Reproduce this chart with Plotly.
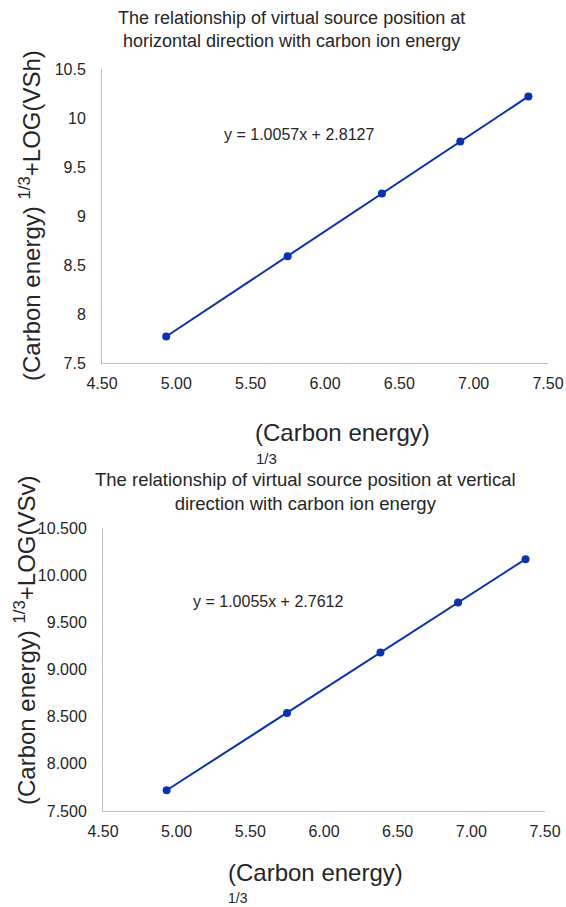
import plotly.graph_objects as go

# Data
energy_cuberoot = [4.932, 5.749, 6.383, 6.910, 7.368]
vsh_values = [7.77, 8.59, 9.23, 9.76, 10.22]
vsv_values = [7.72, 8.54, 9.18, 9.71, 10.17]
eq_h = "y = 1.0057x + 2.8127"
eq_v = "y = 1.0055x + 2.7612"
title_h = "The relationship of virtual source position at<br>horizontal direction with carbon ion energy"
title_v = "The relationship of virtual source position at vertical<br>direction with carbon ion energy"
ytitle_h = "(Carbon energy) <sup>1/3</sup>+LOG(VSh)"
ytitle_v = "(Carbon energy) <sup>1/3</sup>+LOG(VSv)"
xtitle = "(Carbon energy)"
xtitle_exp = "1/3"
x_ticks = [4.5, 5.0, 5.5, 6.0, 6.5, 7.0, 7.5]

W, H = 566, 907
FONT = "Liberation Sans, Arial, sans-serif"
BLUE = "#0a32b4"
AXC = "#bfbfbf"
TXT = "#262626"


def px(x):
    return x / W


def py(y):
    return 1 - y / H


fig = go.Figure()
fig.add_trace(go.Scatter(x=energy_cuberoot, y=vsh_values, mode="lines+markers",
                         line=dict(color=BLUE, width=2), marker=dict(color=BLUE, size=8),
                         xaxis="x", yaxis="y", showlegend=False))
fig.add_trace(go.Scatter(x=energy_cuberoot, y=vsv_values, mode="lines+markers",
                         line=dict(color=BLUE, width=2), marker=dict(color=BLUE, size=8),
                         xaxis="x2", yaxis="y2", showlegend=False))

common_x = dict(range=[4.5, 7.5], tickvals=x_ticks, tickformat=".2f", showgrid=False,
                zeroline=False, showline=True, linecolor=AXC, linewidth=1, ticks="",
                tickfont=dict(size=16, color=TXT, family=FONT), ticklabelstandoff=6)
common_y = dict(showgrid=False, zeroline=False, showline=True, linecolor=AXC, linewidth=1,
                ticks="", tickfont=dict(size=16, color=TXT, family=FONT), ticklabelstandoff=12)

fig.update_layout(
    width=W, height=H, margin=dict(l=0, r=0, t=0, b=0, autoexpand=False),
    paper_bgcolor="white", plot_bgcolor="white",
    font=dict(family=FONT, color=TXT),
    xaxis=dict(domain=[px(102), px(548)], anchor="y", **common_x),
    yaxis=dict(domain=[py(363), py(69)], anchor="x", range=[7.5, 10.5], dtick=0.5, **common_y),
    xaxis2=dict(domain=[px(103), px(545)], anchor="y2", **common_x),
    yaxis2=dict(domain=[py(811), py(528)], anchor="x2", range=[7.5, 10.5], dtick=0.5,
                tickformat=".3f", **common_y),
)


def note(text, x, y, size, angle=0):
    return dict(text=text, x=px(x), y=py(y), xref="paper", yref="paper",
                xanchor="center", yanchor="middle", showarrow=False, textangle=angle,
                align="center", font=dict(size=size, color=TXT, family=FONT))


ann = [
    note(title_h, 291, 30, 18),
    note(title_v, 305, 491, 18.5),
    note(eq_h, 299, 134, 16),
    note(eq_v, 268, 601, 16),
    note(ytitle_h, 30, 216, 24, -90),
    note(ytitle_v, 25, 641, 24, -90),
    note(xtitle, 342, 432, 24),
    note(xtitle_exp, 266, 458, 15),
    note(xtitle, 315, 872, 24),
    note(xtitle_exp, 238, 898, 14),
]
fig.update_layout(annotations=ann)

# remove the default 8px page margin so the figure fills the window exactly
fig.write_html("out.html", config={"displayModeBar": False},
               post_script="document.body.style.margin='0';")
